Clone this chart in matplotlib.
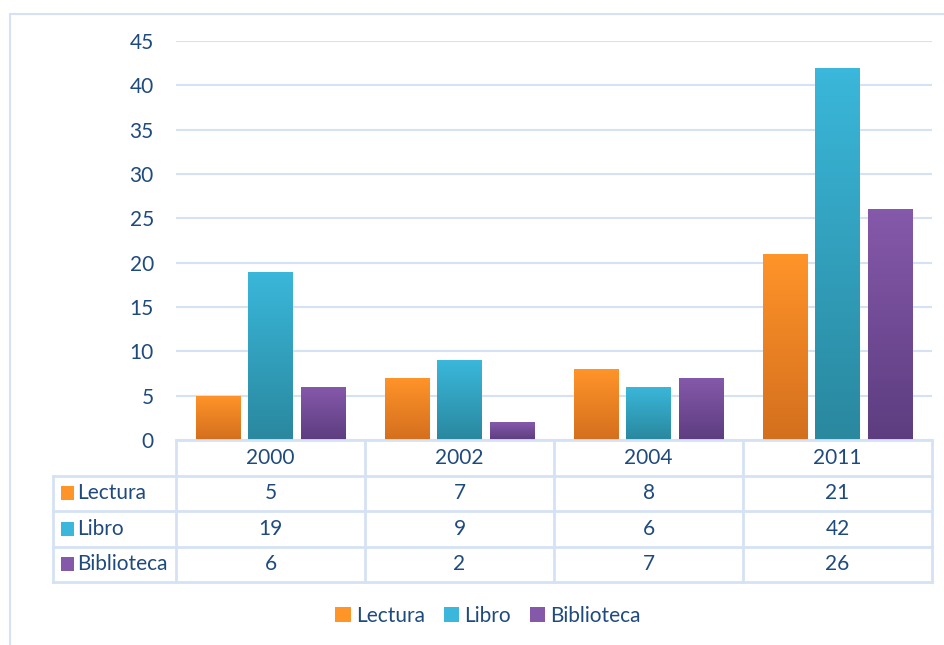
import matplotlib.pyplot as plt
import numpy as np
from matplotlib.colors import LinearSegmentedColormap
from matplotlib.patches import Rectangle

plt.rcParams['font.family'] = ['Lato', 'DejaVu Sans']

years = ["2000", "2002", "2004", "2011"]
series = ["Lectura", "Libro", "Biblioteca"]
lectura = [5, 7, 8, 21]
libro = [19, 9, 6, 42]
biblioteca = [6, 2, 7, 26]
valores = [lectura, libro, biblioteca]

# top colour, bottom colour for each series
grad = [("#ff9429", "#d46f1e"), ("#3ab7da", "#2a889f"), ("#8559aa", "#5d3d80")]
txt = "#1f4a7e"
linea = "#d5e2f3"
fs = 15

W, H = 945, 645
fig = plt.figure(figsize=(W / 100, H / 100), dpi=100)

# outer frame
fig.patches.append(Rectangle((10 / W, -0.01), 1.0, (H - 14) / H + 0.01,
                             transform=fig.transFigure, fill=False,
                             edgecolor=linea, lw=1.5))

ax = fig.add_axes([176 / W, (H - 440) / H, (932 - 176) / W, (440 - 41) / H])
ind = np.arange(len(years))
ancho = 0.233
paso = 0.278

for k, vals in enumerate(valores):
    cmap = LinearSegmentedColormap.from_list("g%d" % k, [grad[k][1], grad[k][0]])
    bars = ax.bar(ind + (k - 1) * paso, vals, ancho, color=grad[k][0], zorder=2)
    for b in bars:
        x0, y0 = b.get_x(), b.get_y()
        w, h = b.get_width(), b.get_height()
        im = ax.imshow(np.linspace(0, 1, 64).reshape(-1, 1), cmap=cmap,
                       origin="lower", aspect="auto",
                       extent=(x0, x0 + w, y0, y0 + h), zorder=3)
        im.set_clip_path(b)

ax.set_xlim(-0.5, len(years) - 0.5)
ax.set_ylim(0, 45)
ax.set_yticks(range(0, 46, 5))
ax.set_xticks([])
ax.tick_params(axis="y", length=0, pad=16, labelsize=fs, labelcolor=txt)
ax.grid(axis="y", color=linea, lw=1.5, zorder=0)
for s in ["top", "right", "left", "bottom"]:
    ax.spines[s].set_visible(False)

# data table
izq = (176 - 53) / 189
tax = fig.add_axes([53 / W, (H - 582) / H, (932 - 53) / W, (582 - 440) / H])
tax.set_xlim(-0.5 - izq, len(years) - 0.5)
tax.set_ylim(len(series) + 1, 0)
tax.axis("off")
nf = len(series) + 1
# horizontal lines
tax.plot([-0.5, len(years) - 0.5], [0, 0], color=linea, lw=2, clip_on=False)
for r in range(1, nf + 1):
    tax.plot([-0.5 - izq, len(years) - 0.5], [r, r], color=linea, lw=2, clip_on=False)
# vertical lines
for c in range(len(years) + 1):
    tax.plot([c - 0.5, c - 0.5], [0, nf], color=linea, lw=2, clip_on=False)
tax.plot([-0.5 - izq, -0.5 - izq], [1, nf], color=linea, lw=2, clip_on=False)

for c, y in enumerate(years):
    tax.text(c, 0.5, y, ha="center", va="center", fontsize=fs, color=txt)
for r, (nombre, vals) in enumerate(zip(series, valores)):
    fila = r + 1.5
    tax.add_patch(Rectangle((-0.5 - izq + 0.04, fila - 0.2), 0.072, 0.4,
                            facecolor=grad[r][0], edgecolor="none"))
    tax.text(-0.5 - izq + 0.125, fila, nombre, ha="left", va="center",
             fontsize=fs, color=txt)
    for c, v in enumerate(vals):
        tax.text(c, fila, str(v), ha="center", va="center", fontsize=fs, color=txt)

# legend
handles = [Rectangle((0, 0), 1, 1, facecolor=grad[k][0]) for k in range(len(series))]
fig.legend(handles, series, loc="center", bbox_to_anchor=(488 / W, (H - 616) / H),
           ncol=3, frameon=False, fontsize=fs, labelcolor=txt,
           handlelength=0.75, handleheight=0.75, handletextpad=0.25, columnspacing=0.9)

fig.savefig("out.png", dpi=100)
